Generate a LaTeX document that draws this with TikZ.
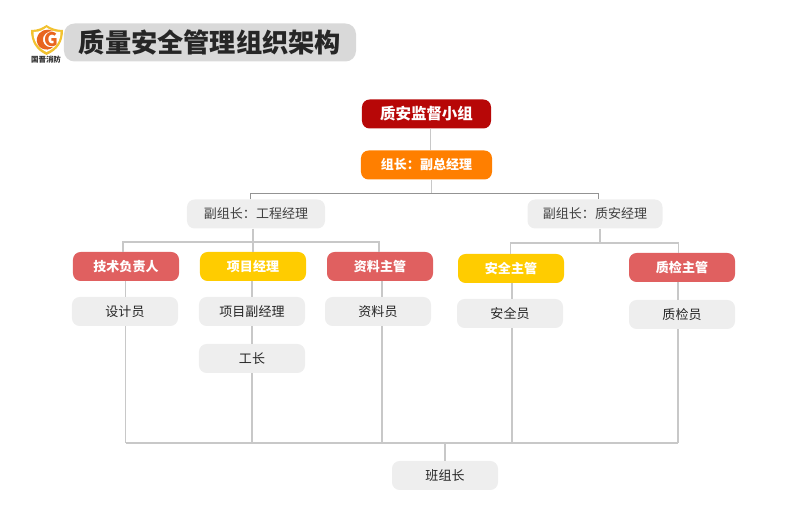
\documentclass[tikz,border=0pt]{standalone}
\usepackage{fontspec}
\setmainfont{Noto Sans CJK SC}
\definecolor{boxgray}{HTML}{EEEEEE}
\definecolor{linegray}{HTML}{C8C8C8}
\definecolor{darkred}{HTML}{B70707}
\definecolor{brightorange}{HTML}{FF7F00}
\definecolor{softred}{HTML}{E06060}
\definecolor{gold}{HTML}{FFCC00}
\definecolor{titlegray}{HTML}{D9D9D9}
\definecolor{shieldgold}{HTML}{F2C230}
\definecolor{flame}{HTML}{E8641E}
\tikzset{
  box/.style={rounded corners=6.5pt,minimum width=3.18cm,minimum height=0.87cm,inner sep=0pt,font=\fontsize{11.1pt}{13pt}\selectfont},
  plainbox/.style={box,fill=boxgray,text=black!85},
  headbox/.style={box,text=white,font=\fontsize{11.1pt}{13pt}\selectfont\bfseries},
  link/.style={draw=linegray,line width=1pt},
}
\begin{document}
\begin{tikzpicture}[x=0.03cm,y=-0.03cm]
\useasboundingbox (0,0) rectangle (800,515);

% title
  \node[fill=titlegray,rounded corners=9pt,minimum width=8.76cm,minimum height=1.14cm,inner sep=0pt,font=\fontsize{22.4pt}{25pt}\selectfont\bfseries,text=black!85] (title) at (210,42.5) {质量安全管理组织架构};

% logo
  \fill[shieldgold] (31,30) .. controls (38,30) and (42,28) .. (46.5,25) .. controls (51,28) and (56,30) .. (63,30) .. controls (63,42) and (58,50) .. (46.5,55) .. controls (36,50) and (31,42) .. (31,30) -- cycle;
  \fill[white] (33.5,32) .. controls (40,32) and (43,30) .. (46.5,27.5) .. controls (50,30) and (54,32) .. (60.5,32) .. controls (60.5,41) and (56,48) .. (46.5,52) .. controls (38,48) and (33.5,41) .. (33.5,32) -- cycle;
  \fill[flame] (37,38) .. controls (39,30) and (47,28) .. (53,31) .. controls (47,31) and (42,35) .. (43,41) .. controls (44,46) and (49,48) .. (53,47) .. controls (47,53) and (35,48) .. (37,38) -- cycle;
  \node[inner sep=0pt,font=\fontsize{16pt}{16pt}\selectfont\bfseries,text=flame] (logog) at (51,40) {G};
  \node[inner sep=0pt,font=\fontsize{6.4pt}{7pt}\selectfont\bfseries,text=black!80] (logotext) at (46,60) {国晋消防};

% first levels
  \node[headbox,fill=darkred,font=\fontsize{13.2pt}{15pt}\selectfont\bfseries,minimum width=3.87cm] (group) at (426.5,114) {质安监督小组};
  \node[headbox,fill=brightorange,minimum width=3.93cm] (leader) at (426.5,165) {组长：副总经理};
  \node[plainbox,minimum width=4.14cm,text=black!75] (deputyA) at (256,214) {副组长：工程经理};
  \node[plainbox,minimum width=4.05cm,text=black!75] (deputyB) at (595,214) {副组长：质安经理};

% heads
  \node[headbox,fill=softred] (tech) at (126,266.5) {技术负责人};
  \node[headbox,fill=gold] (project) at (253,266.5) {项目经理};
  \node[headbox,fill=softred] (data) at (380,266.5) {资料主管};
  \node[headbox,fill=gold] (safety) at (511,268.5) {安全主管};
  \node[headbox,fill=softred] (quality) at (682,267.5) {质检主管};

% staff
  \node[plainbox] (designer) at (125,311.5) {设计员};
  \node[plainbox] (vicepm) at (252,311.5) {项目副经理};
  \node[plainbox] (foreman) at (252,358.5) {工长};
  \node[plainbox] (clerk) at (378,311.5) {资料员};
  \node[plainbox] (safeguard) at (510,313.5) {安全员};
  \node[plainbox] (inspector) at (682,314.5) {质检员};
  \node[plainbox] (teamlead) at (445,475.5) {班组长};

% connection points
  \coordinate (stemA) at (430.5,128);
  \coordinate (stemB) at (431.5,193);
  \coordinate (busA) at (253,242);
  \coordinate (busB) at (600,243);
  \coordinate (legA) at (125.5,443);
  \coordinate (legB) at (252,443);
  \coordinate (legC) at (382,443);
  \coordinate (legD) at (512,443);
  \coordinate (legE) at (678,443);
  \coordinate (legF) at (445,443);

% top lines
  \draw[link] (group.south -| stemA) -- (leader.north -| stemA);
  \draw[link] (leader.south -| stemB) -- (stemB);
  \draw[link,draw=gray!85,line width=0.8pt] (deputyA.north -| 250.5,0) -- (250.5,193) -- (598.5,193) -- (598.5,0 |- deputyB.north);

% bars under the deputies
  \draw[link] (deputyA.south -| busA) -- (busA);
  \draw[link] (tech.north -| 123,0) -- (123,242) -- (379,242) -- (379,0 |- data.north);
  \draw[link] (busA) -- (project.north -| busA);
  \draw[link] (deputyB.south -| busB) -- (busB);
  \draw[link] (safety.north -| 510.5,0) -- (510.5,243) -- (678.5,243) -- (678.5,0 |- quality.north);

% heads to staff
  \draw[link] (tech.south -| legA) -- (designer.north -| legA);
  \draw[link] (project.south -| legB) -- (vicepm.north -| legB);
  \draw[link] (vicepm.south -| legB) -- (foreman.north -| legB);
  \draw[link] (data.south -| legC) -- (clerk.north -| legC);
  \draw[link] (safety.south -| legD) -- (safeguard.north -| legD);
  \draw[link] (quality.south -| legE) -- (inspector.north -| legE);

% staff down to the bottom bar
  \draw[link] (designer.south -| legA) -- (legA);
  \draw[link] (foreman.south -| legB) -- (legB);
  \draw[link] (clerk.south -| legC) -- (legC);
  \draw[link] (safeguard.south -| legD) -- (legD);
  \draw[link] (inspector.south -| legE) -- (legE);
  \draw[link,line width=1.4pt] (legA) -- (legE);
  \draw[link] (legF) -- (teamlead.north);

\end{tikzpicture}
\end{document}
